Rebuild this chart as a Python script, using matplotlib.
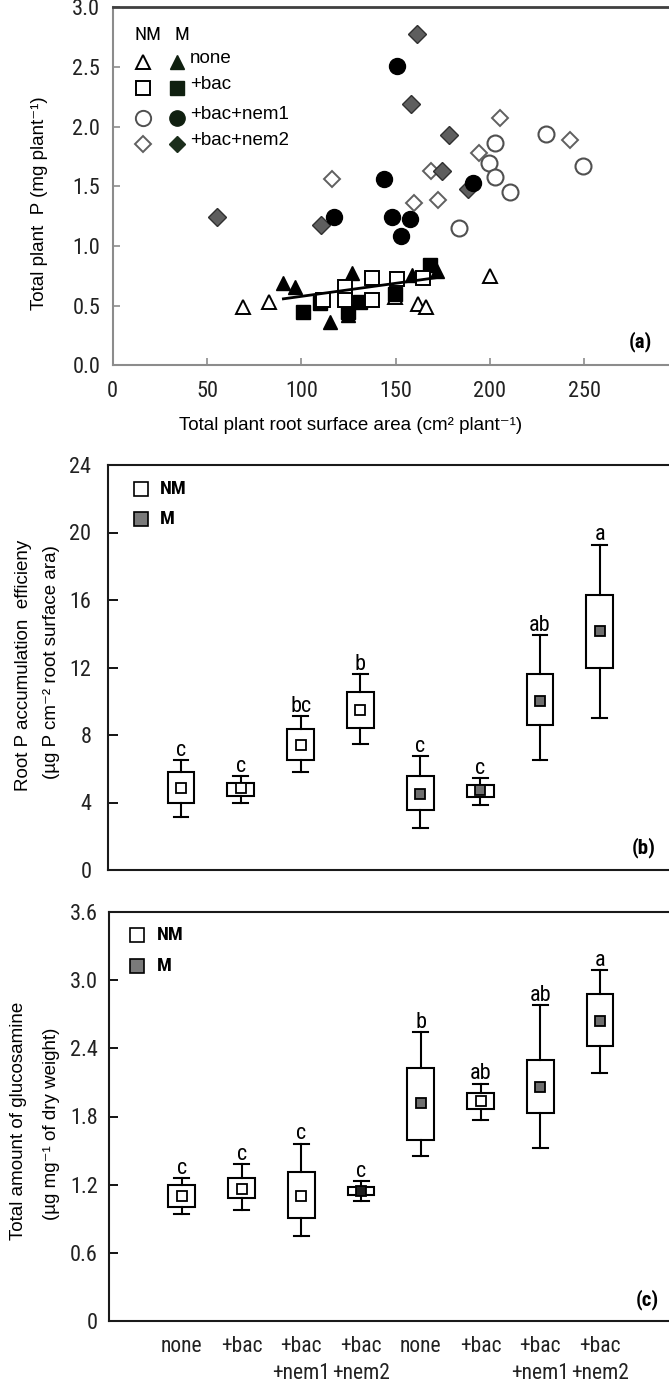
import numpy as np
import matplotlib
matplotlib.use("Agg")
import matplotlib.pyplot as plt
from matplotlib import font_manager

# ---------------- data: panel (a) ----------------
nm_none_x = [69.2, 83.0, 149.8, 161.7, 166.0, 200.1]
nm_none_y = [0.49, 0.53, 0.57, 0.51, 0.49, 0.75]
m_none_x = [90.5, 96.7, 115.0, 125.0, 126.7, 158.5, 172.0]
m_none_y = [0.69, 0.66, 0.36, 0.42, 0.77, 0.76, 0.79]
nm_bac_x = [111.7, 123.2, 123.2, 137.3, 137.3, 150.6, 164.7]
nm_bac_y = [0.55, 0.66, 0.55, 0.73, 0.55, 0.72, 0.73]
m_bac_x = [101.0, 109.9, 124.9, 131.0, 149.7, 168.3]
m_bac_y = [0.45, 0.52, 0.45, 0.53, 0.60, 0.84]
nm_nem1_x = [183.4, 199.3, 202.6, 202.6, 210.7, 229.5, 249.2]
nm_nem1_y = [1.15, 1.70, 1.86, 1.58, 1.45, 1.94, 1.67]
m_nem1_x = [117.6, 144.1, 147.9, 150.8, 152.7, 157.5, 191.1]
m_nem1_y = [1.24, 1.56, 1.24, 2.51, 1.08, 1.23, 1.53]
nm_nem2_x = [116.2, 159.8, 168.6, 172.5, 194.3, 205.1, 242.3]
nm_nem2_y = [1.56, 1.36, 1.63, 1.39, 1.78, 2.07, 1.89]
m_nem2_x = [55.4, 110.5, 158.4, 161.3, 174.8, 178.2, 188.2]
m_nem2_y = [1.24, 1.18, 2.19, 2.78, 1.63, 1.93, 1.48]
legend_labels = ["none", "+bac", "+bac+nem1", "+bac+nem2"]
a_xticks = [0, 50, 100, 150, 200, 250]
a_yticks = [0.0, 0.5, 1.0, 1.5, 2.0, 2.5, 3.0]

# ---------------- data: panels (b) and (c) ----------------
groups = ["none", "+bac", "+bac\n+nem1", "+bac\n+nem2",
          "none", "+bac", "+bac\n+nem1", "+bac\n+nem2"]
is_m = [False, False, False, False, True, True, True, True]

b_whislo = [3.17, 3.96, 5.82, 7.46, 2.51, 3.86, 6.53, 9.03]
b_q1 = [3.96, 4.37, 6.49, 8.44, 3.55, 4.31, 8.57, 11.96]
b_q3 = [5.83, 5.14, 8.35, 10.55, 5.60, 5.04, 11.60, 16.29]
b_whishi = [6.53, 5.55, 9.13, 11.60, 6.74, 5.45, 13.90, 19.28]
b_mean = [4.83, 4.83, 7.38, 9.49, 4.48, 4.73, 10.02, 14.16]
b_letters = ["c", "c", "bc", "b", "c", "c", "ab", "a"]
b_yticks = [0, 4, 8, 12, 16, 20, 24]

c_whislo = [0.94, 0.98, 0.75, 1.06, 1.45, 1.77, 1.52, 2.18]
c_q1 = [1.00, 1.08, 0.91, 1.11, 1.59, 1.87, 1.83, 2.42]
c_q3 = [1.20, 1.26, 1.31, 1.18, 2.23, 2.01, 2.30, 2.88]
c_whishi = [1.26, 1.38, 1.56, 1.23, 2.54, 2.09, 2.78, 3.09]
c_mean = [1.10, 1.16, 1.10, 1.14, 1.92, 1.94, 2.06, 2.64]
c_letters = ["c", "c", "c", "c", "b", "ab", "ab", "a"]
c_yticks = [0, 0.6, 1.2, 1.8, 2.4, 3.0, 3.6]


def pick(*names):
    for n in names:
        try:
            font_manager.findfont(n, fallback_to_default=False)
            return n
        except Exception:
            pass
    return "DejaVu Sans"


NARROW = pick("Liberation Sans Narrow", "Roboto Condensed", "Liberation Sans")
SANS = pick("Liberation Sans", "Arial", "DejaVu Sans")
FAM_N = [NARROW, "DejaVu Sans"]
FAM_S = [SANS, "DejaVu Sans"]

W, H = 669, 1387
fig = plt.figure(figsize=(W / 100, H / 100), dpi=100)
fig.patch.set_facecolor("white")


def rect(l, t, r, b):
    return [l / W, 1 - b / H, (r - l) / W, (b - t) / H]


GRAY_M = "#6e6e6e"

# ======================= panel (a) =======================
ax = fig.add_axes(rect(112.7, 7.5, 678.5, 365.3))
ax.set_xlim(0, 300)
ax.set_ylim(0, 3.0)

ms = 10.5
ax.plot(nm_none_x, nm_none_y, ls="none", marker="^", ms=ms, mfc="white", mec="black", mew=1.4)
ax.plot(m_none_x, m_none_y, ls="none", marker="^", ms=ms, mfc="black", mec="black", mew=1.0)
ax.plot(m_bac_x, m_bac_y, ls="none", marker="s", ms=10, mfc="black", mec="black", mew=1.0)
ax.plot(nm_bac_x, nm_bac_y, ls="none", marker="s", ms=10, mfc="white", mec="black", mew=1.4)
ax.plot(nm_nem1_x, nm_nem1_y, ls="none", marker="o", ms=11.5, mfc="white", mec="#505050", mew=1.5)
ax.plot(nm_nem2_x, nm_nem2_y, ls="none", marker="D", ms=8.5, mfc="white", mec="#606060", mew=1.4)
ax.plot(m_nem2_x, m_nem2_y, ls="none", marker="D", ms=9, mfc="#5e5e5e", mec="#303030", mew=1.0)
ax.plot(m_nem1_x, m_nem1_y, ls="none", marker="o", ms=11.5, mfc="black", mec="black", mew=1.0)

# regression line of M "none"
coef = np.polyfit(m_none_x, m_none_y, 1)
xl = np.array([min(m_none_x), max(m_none_x)])
ax.plot(xl, np.polyval(coef, xl), color="black", lw=2.0)

ax.set_xticks(a_xticks)
ax.set_xticklabels([str(v) for v in a_xticks])
ax.set_yticks(a_yticks)
ax.set_yticklabels([f"{v:.1f}" for v in a_yticks])
ax.tick_params(direction="in", length=5, width=1.2, color="#8c8c8c", labelsize=16)
ax.tick_params(axis="x", pad=11)
ax.tick_params(axis="y", pad=9)
for lab in ax.get_xticklabels() + ax.get_yticklabels():
    lab.set_family(FAM_N)
    lab.set_color("#222222")
for s in ["left", "bottom"]:
    ax.spines[s].set_color("#8c8c8c")
    ax.spines[s].set_linewidth(1.5)
ax.spines["top"].set_color("#404040")
ax.spines["top"].set_linewidth(2.0)
ax.spines["right"].set_visible(False)

# manual legend
ax.text(0.062, 0.923, "NM", transform=ax.transAxes, ha="center", va="center",
        fontsize=14, family=FAM_N)
ax.text(0.1225, 0.923, "M", transform=ax.transAxes, ha="center", va="center",
        fontsize=14, family=FAM_N)
leg_rows = [0.8485, 0.774, 0.691, 0.6185]
leg_open = [("^", "black", 10), ("s", "black", 10), ("o", "#505050", 11), ("D", "#606060", 8)]
leg_fill = [("^", "#102010", 10), ("s", "#102010", 10), ("o", "#102010", 11), ("D", "#1c2e1c", 8.5)]
for yr, (mk, ec, sz), (mk2, fc2, sz2), lab in zip(leg_rows, leg_open, leg_fill, legend_labels):
    ax.plot([0.054], [yr], transform=ax.transAxes, marker=mk, ms=sz, mfc="white", mec=ec,
            mew=1.4, ls="none", clip_on=False)
    ax.plot([0.113], [yr], transform=ax.transAxes, marker=mk2, ms=sz2, mfc=fc2, mec=fc2,
            mew=1.0, ls="none", clip_on=False)
    ax.text(0.136, yr + 0.010, lab, transform=ax.transAxes, ha="left", va="center",
            fontsize=13.5, family=FAM_S)

fig.text(640 / W, 1 - 342 / H, "(a)", ha="center", va="center", fontsize=15,
         fontweight="bold", family=FAM_N)
fig.text(40 / W, 1 - 203.5 / H, "Total plant  P (mg plant\u207b\u00b9)", rotation=90,
         ha="center", va="center", fontsize=13.5, family=FAM_S)
fig.text(351 / W, 1 - 426 / H, "Total plant root surface area (cm\u00b2 plant\u207b\u00b9)",
         ha="center", va="center", fontsize=13.5, family=FAM_S)


# ======================= panels (b), (c) =======================
def box_panel(rc, whislo, q1, q3, whishi, mean, mean_face, letters, yticks, ylim, ylabfmt,
              tick_len, ypad, legend_xy, tag, tag_xy, show_xlabels):
    axb = fig.add_axes(rc)
    pos = np.arange(1, len(groups) + 1)
    stats = []
    for i in range(len(groups)):
        stats.append(dict(med=mean[i], q1=q1[i], q3=q3[i], whislo=whislo[i],
                          whishi=whishi[i], mean=mean[i], fliers=[]))
    art = axb.bxp(stats, positions=pos, widths=0.45, capwidths=0.25, showmeans=True,
                  showfliers=False, patch_artist=True,
                  boxprops=dict(facecolor="white", edgecolor="black", linewidth=1.5),
                  whiskerprops=dict(color="black", linewidth=1.5),
                  capprops=dict(color="black", linewidth=1.5),
                  medianprops=dict(linewidth=0, alpha=0),
                  meanprops=dict(marker="s", markersize=6.5, markeredgecolor="black",
                                 markeredgewidth=1.3, markerfacecolor="white"))
    for ln, fc in zip(art["means"], mean_face):
        ln.set_markerfacecolor(fc)
    for p, w, L in zip(pos, whishi, letters):
        axb.annotate(L, (p, w), xytext=(0, -0.5), textcoords="offset points",
                     ha="center", va="bottom", fontsize=16, family=FAM_N)
    axb.set_xlim(-0.22, 9.34)
    axb.set_ylim(*ylim)
    axb.set_yticks(yticks)
    axb.set_yticklabels([ylabfmt(v) for v in yticks])
    axb.tick_params(axis="y", direction="in", length=tick_len, width=1.3, color="black",
                    labelsize=16, pad=ypad)
    if show_xlabels:
        axb.set_xticks(pos)
        axb.set_xticklabels(groups, linespacing=1.35)
        axb.tick_params(axis="x", length=0, labelsize=15.5, pad=11)
    else:
        axb.set_xticks([])
    for lab in axb.get_xticklabels() + axb.get_yticklabels():
        lab.set_family(FAM_N)
        lab.set_color("#222222")
    for s in ["left", "bottom", "top"]:
        axb.spines[s].set_color("#1a1a1a")
        axb.spines[s].set_linewidth(1.5)
    axb.spines["right"].set_visible(False)
    lx, ly1, ly2, tx = legend_xy
    axb.plot([lx], [ly1], transform=axb.transAxes, marker="s", ms=10.5, mfc="white",
             mec="black", mew=1.2, ls="none", clip_on=False)
    axb.plot([lx], [ly2], transform=axb.transAxes, marker="s", ms=10.5, mfc="#7a7a7a",
             mec="black", mew=1.2, ls="none", clip_on=False)
    axb.text(tx, ly1, "NM", transform=axb.transAxes, ha="left", va="center",
             fontsize=14, fontweight="bold", family=FAM_N)
    axb.text(tx, ly2, "M", transform=axb.transAxes, ha="left", va="center",
             fontsize=14, fontweight="bold", family=FAM_N)
    fig.text(tag_xy[0] / W, 1 - tag_xy[1] / H, tag, ha="center", va="center",
             fontsize=15, fontweight="bold", family=FAM_N)
    return axb


b_face = [GRAY_M if m else "white" for m in is_m]
c_face = ["white", "white", "white", "#1e1e1e", GRAY_M, "white", GRAY_M, GRAY_M]

box_panel(rect(108, 465, 680, 870), b_whislo, b_q1, b_q3, b_whishi, b_mean, b_face, b_letters,
          b_yticks, (0, 24), lambda v: f"{v:d}", 7, 12,
          (0.058, 0.941, 0.867, 0.091), "(b)", (644, 848), False)
box_panel(rect(109, 912, 680, 1321), c_whislo, c_q1, c_q3, c_whishi, c_mean, c_face, c_letters,
          c_yticks, (0, 3.6), lambda v: "0" if v == 0 else f"{v:.1f}", 6.5, 8,
          (0.0485, 0.944, 0.867, 0.0835), "(c)", (647, 1300), True)

fig.text(23.3 / W, 1 - 665 / H, "Root P accumulation  efficieny", rotation=90,
         ha="center", va="center", fontsize=13.5, family=FAM_S)
fig.text(51.7 / W, 1 - 662 / H, "(\u00b5g P cm\u207b\u00b2 root surface ara)", rotation=90,
         ha="center", va="center", fontsize=13.5, family=FAM_S)
fig.text(19 / W, 1 - 1121 / H, "Total amount of glucosamine", rotation=90,
         ha="center", va="center", fontsize=13.5, family=FAM_S)
fig.text(51.7 / W, 1 - 1124 / H, "(\u00b5g mg\u207b\u00b9 of dry weight)", rotation=90,
         ha="center", va="center", fontsize=13.5, family=FAM_S)

fig.savefig("out.png", dpi=100, facecolor="white")
